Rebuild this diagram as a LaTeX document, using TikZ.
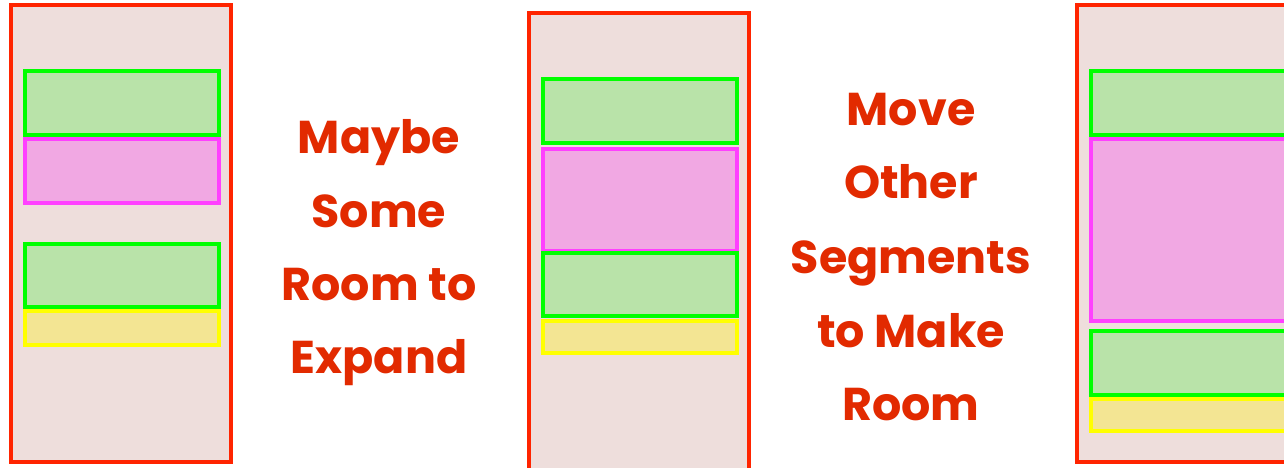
\documentclass[tikz,border=0pt]{standalone}
\usepackage{fontspec}
\setmainfont{Poppins}
\definecolor{panelred}{RGB}{255,36,0}
\definecolor{panelfill}{RGB}{238,222,220}
\definecolor{gline}{RGB}{0,255,0}
\definecolor{gfill}{RGB}{185,227,169}
\definecolor{mline}{RGB}{255,64,255}
\definecolor{mfill}{RGB}{241,168,227}
\definecolor{yline}{RGB}{255,255,0}
\definecolor{yfill}{RGB}{243,229,147}
\definecolor{txt}{RGB}{226,42,0}
\tikzset{
  panel/.style={draw=panelred,fill=panelfill,line width=4pt},
  gseg/.style={draw=gline,fill=gfill,line width=4pt},
  mseg/.style={draw=mline,fill=mfill,line width=4pt},
  yseg/.style={draw=yline,fill=yfill,line width=4pt},
  hand/.style={text=txt,font=\fontsize{46}{74}\selectfont\bfseries,inner sep=0pt,anchor=base}
}
\begin{document}
\begin{tikzpicture}[x=1pt,y=-1pt]
\clip (0,0) rectangle (1284,467);
\fill[white] (0,0) rectangle (1284,467);
% panel 1
\path[panel] (11,5) rectangle (231,462);
\path[gseg] (25,71) rectangle (219,135);
\path[mseg] (25,139) rectangle (219,203);
\path[gseg] (25,244) rectangle (219,307);
\path[yseg] (25,311) rectangle (219,345);
% panel 2
\path[panel] (529,13) rectangle (749,480);
\path[gseg] (543,79) rectangle (737,143);
\path[mseg] (543,149) rectangle (737,251);
\path[gseg] (543,253) rectangle (737,316);
\path[yseg] (543,321) rectangle (737,353);
% panel 3
\path[panel] (1077,5) rectangle (1300,462);
\path[gseg] (1091,71) rectangle (1300,135);
\path[mseg] (1091,139) rectangle (1300,321);
\path[gseg] (1091,331) rectangle (1300,395);
\path[yseg] (1091,399) rectangle (1300,431);
% text 1
\foreach \t/\yy [count=\i] in {Maybe/153,Some/227,Room to/300,Expand/373}{
  \node[hand] (a\i) at (379,\yy) {\t};
}
% text 2
\foreach \t/\yy [count=\i] in {Move/125,Other/198,Segments/273,to Make/347,Room/420}{
  \node[hand] (b\i) at (911,\yy) {\t};
}
\end{tikzpicture}
\end{document}
